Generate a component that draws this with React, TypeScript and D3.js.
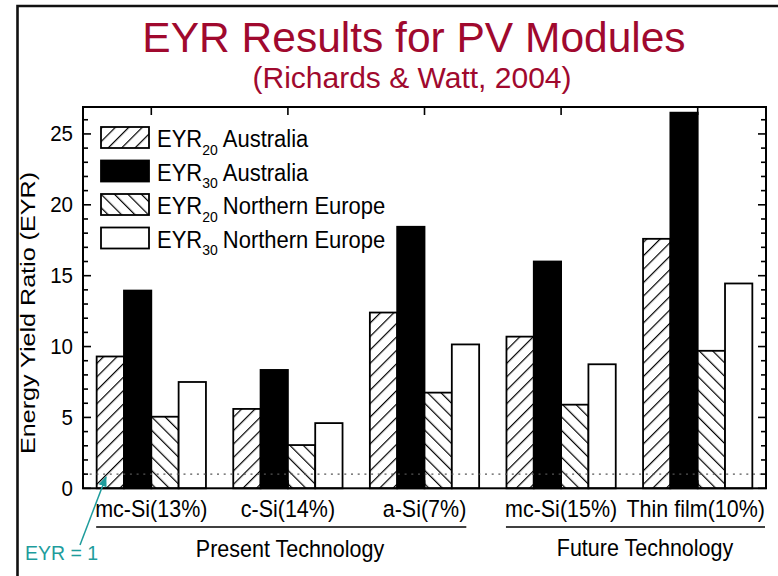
import React from "react";
import * as d3 from "d3";

const categories = ["mc-Si(13%)", "c-Si(14%)", "a-Si(7%)", "mc-Si(15%)", "Thin film(10%)"];
const eyr20Australia = [9.3, 5.6, 12.4, 10.7, 17.6];
const eyr30Australia = [13.95, 8.35, 18.45, 16.0, 26.5];
const eyr20NorthernEurope = [5.05, 3.05, 6.75, 5.9, 9.7];
const eyr30NorthernEurope = [7.5, 4.6, 10.15, 8.75, 14.45];
const seriesKeys = ["a20", "a30", "n20", "n30"];
const seriesLabels = [
  { sub: "20", name: "Australia" },
  { sub: "30", name: "Australia" },
  { sub: "20", name: "Northern Europe" },
  { sub: "30", name: "Northern Europe" },
];
const yTicks = [0, 5, 10, 15, 20, 25];
const techGroups = [
  { name: "Present Technology", from: 0, to: 2 },
  { name: "Future Technology", from: 3, to: 4 },
];
const referenceLineValue = 1;

const FONT = "'Liberation Sans', Arial, Helvetica, sans-serif";
const W = 778;
const H = 576;
const plot = { left: 83, right: 766, top: 107, bottom: 488.3 };

function fillFor(i: number) {
  if (i === 0) return "url(#hatchFwd)";
  if (i === 1) return "#000";
  if (i === 2) return "url(#hatchBack)";
  return "#fff";
}

let measureCtx: CanvasRenderingContext2D | null = null;
function textWidth(s: string, size: number) {
  if (!measureCtx) {
    const c = document.createElement("canvas");
    measureCtx = c.getContext("2d");
  }
  if (!measureCtx) return s.length * size * 0.5;
  measureCtx.font = `${size}px ${FONT}`;
  return measureCtx.measureText(s).width;
}

const ST = ({ x, y, size, anchor = "start", sy = 1.12, fill = "#000", children }: any) => (
  <text
    transform={`translate(${x},${y}) scale(1,${sy})`}
    fontSize={size}
    textAnchor={anchor}
    fontFamily={FONT}
    fill={fill}
  >
    {children}
  </text>
);

export default function App() {
  const values = categories.map((c, i) => ({
    cat: c,
    a20: eyr20Australia[i],
    a30: eyr30Australia[i],
    n20: eyr20NorthernEurope[i],
    n30: eyr30NorthernEurope[i],
  }));

  const x0 = d3
    .scaleBand<string>()
    .domain(categories)
    .range([plot.left, plot.right])
    .paddingInner(0.2)
    .paddingOuter(0.1);
  const x1 = d3.scaleBand<string>().domain(seriesKeys).range([0, x0.bandwidth()]).padding(0);
  const y = d3.scaleLinear().domain([0, 26.9]).range([plot.bottom, plot.top]);

  const minorTicks = d3.range(0, 27, 1);
  const labelSize = 21.5;

  const labelPos = categories.map((c) => {
    const w = textWidth(c, labelSize);
    let cx = (x0(c) as number) + x0.bandwidth() / 2;
    if (cx + w / 2 > plot.right - 1) cx = plot.right - 1 - w / 2;
    return { cx, left: cx - w / 2, right: cx + w / 2 };
  });

  return (
    <svg
      width={W}
      height={H}
      style={{ position: "absolute", left: 0, top: 0, background: "#fff" }}
      xmlns="http://www.w3.org/2000/svg"
    >
      <defs>
        <pattern id="hatchFwd" patternUnits="userSpaceOnUse" width="9.5" height="20" patternTransform="rotate(45)">
          <rect width="9.5" height="20" fill="#fff" />
          <line x1="0" y1="0" x2="0" y2="20" stroke="#000" strokeWidth="2.4" />
        </pattern>
        <pattern id="hatchBack" patternUnits="userSpaceOnUse" width="9.5" height="20" patternTransform="rotate(-45)">
          <rect width="9.5" height="20" fill="#fff" />
          <line x1="0" y1="0" x2="0" y2="20" stroke="#000" strokeWidth="2.4" />
        </pattern>
        <marker id="arrowHead" viewBox="0 0 10 10" refX="9" refY="5" markerWidth="7" markerHeight="7" orient="auto">
          <path d="M0,1 L10,5 L0,9 z" fill="#1E9C9C" />
        </marker>
      </defs>

      <rect x={0} y={0} width={W} height={H} fill="#fff" />
      {/* slide frame */}
      <path d={`M17.5,${H} L17.5,6 L${W},6`} fill="none" stroke="#111" strokeWidth={2.6} />

      {/* title */}
      <text x={414} y={52} textAnchor="middle" fontFamily={FONT} fontSize={42.5} fill="#A0092E">
        EYR Results for PV Modules
      </text>
      <text x={412} y={88} textAnchor="middle" fontFamily={FONT} fontSize={30} fill="#A0092E">
        (Richards &amp; Watt, 2004)
      </text>

      {/* bars */}
      {values.map((d) => (
        <g key={d.cat} transform={`translate(${x0(d.cat)},0)`}>
          {seriesKeys.map((k, i) => {
            const v = (d as any)[k] as number;
            return (
              <rect
                key={k}
                x={x1(k)}
                y={y(v)}
                width={x1.bandwidth()}
                height={y(0) - y(v)}
                fill={fillFor(i)}
                stroke="#000"
                strokeWidth={1.8}
              />
            );
          })}
        </g>
      ))}

      {/* EYR = 1 dotted line */}
      <line
        x1={plot.left}
        x2={plot.right}
        y1={y(referenceLineValue)}
        y2={y(referenceLineValue)}
        stroke="#555"
        strokeWidth={1.3}
        strokeDasharray="2,4.7"
      />

      {/* plot frame */}
      <rect
        x={plot.left}
        y={plot.top}
        width={plot.right - plot.left}
        height={plot.bottom - plot.top}
        fill="none"
        stroke="#000"
        strokeWidth={2}
      />

      {/* y ticks left & right */}
      {minorTicks.map((t) => {
        const major = t % 5 === 0;
        const len = major ? 8 : 5;
        const yy = y(t);
        return (
          <g key={t}>
            <line x1={plot.left} x2={plot.left + len} y1={yy} y2={yy} stroke="#000" strokeWidth={1.6} />
            <line x1={plot.right} x2={plot.right - len} y1={yy} y2={yy} stroke="#000" strokeWidth={1.6} />
          </g>
        );
      })}
      {yTicks.map((t) => (
        <ST key={t} x={73} y={y(t) + 7.5} size={20.5} anchor="end" sy={1.08}>
          {t}
        </ST>
      ))}

      {/* top / bottom category ticks */}
      {categories.map((c) => {
        const cx = (x0(c) as number) + x0.bandwidth() / 2;
        return (
          <g key={c}>
            <line x1={cx} x2={cx} y1={plot.top} y2={plot.top + 8} stroke="#000" strokeWidth={1.6} />
            <line x1={cx} x2={cx} y1={plot.bottom} y2={plot.bottom - 8} stroke="#000" strokeWidth={1.6} />
          </g>
        );
      })}

      {/* y axis title */}
      <text
        transform={`translate(35,313) rotate(-90)`}
        textAnchor="middle"
        fontFamily={FONT}
        fontSize={20}
        textLength={282}
        lengthAdjust="spacingAndGlyphs"
      >
        Energy Yield Ratio (EYR)
      </text>

      {/* legend */}
      {seriesLabels.map((s, i) => {
        const top = 127 + i * 33.5;
        return (
          <g key={i}>
            <rect x={101} y={top} width={48} height={21} fill={fillFor(i)} stroke="#000" strokeWidth={1.8} />
            <text
              transform={`translate(157,${top + 20}) scale(1,1.1)`}
              fontFamily={FONT}
              fontSize={22}
            >
              EYR
              <tspan fontSize={14} dy={7}>
                {s.sub}
              </tspan>
              <tspan dy={-7} dx={5}>
                {s.name}
              </tspan>
            </text>
          </g>
        );
      })}

      {/* category labels */}
      {categories.map((c, i) => (
        <ST key={c} x={labelPos[i].cx} y={517} size={labelSize} anchor="middle" sy={1.12}>
          {c}
        </ST>
      ))}

      {/* group underlines and names */}
      {techGroups.map((g) => {
        const l = labelPos[g.from].left + 1;
        const r = labelPos[g.to].right;
        return (
          <g key={g.name}>
            <line x1={l} x2={r} y1={527} y2={527} stroke="#000" strokeWidth={1.6} />
          </g>
        );
      })}
      <ST x={290} y={557} size={21.5} anchor="middle" sy={1.1}>
        {techGroups[0].name}
      </ST>
      <ST x={645} y={556} size={21.5} anchor="middle" sy={1.1}>
        {techGroups[1].name}
      </ST>

      {/* EYR = 1 annotation */}
      <line x1={80} y1={545} x2={106} y2={477} stroke="#1E9C9C" strokeWidth={1.5} markerEnd="url(#arrowHead)" />
      <text x={25} y={560} fontFamily={FONT} fontSize={19.5} fill="#1E9C9C">
        EYR = 1
      </text>
    </svg>
  );
}
